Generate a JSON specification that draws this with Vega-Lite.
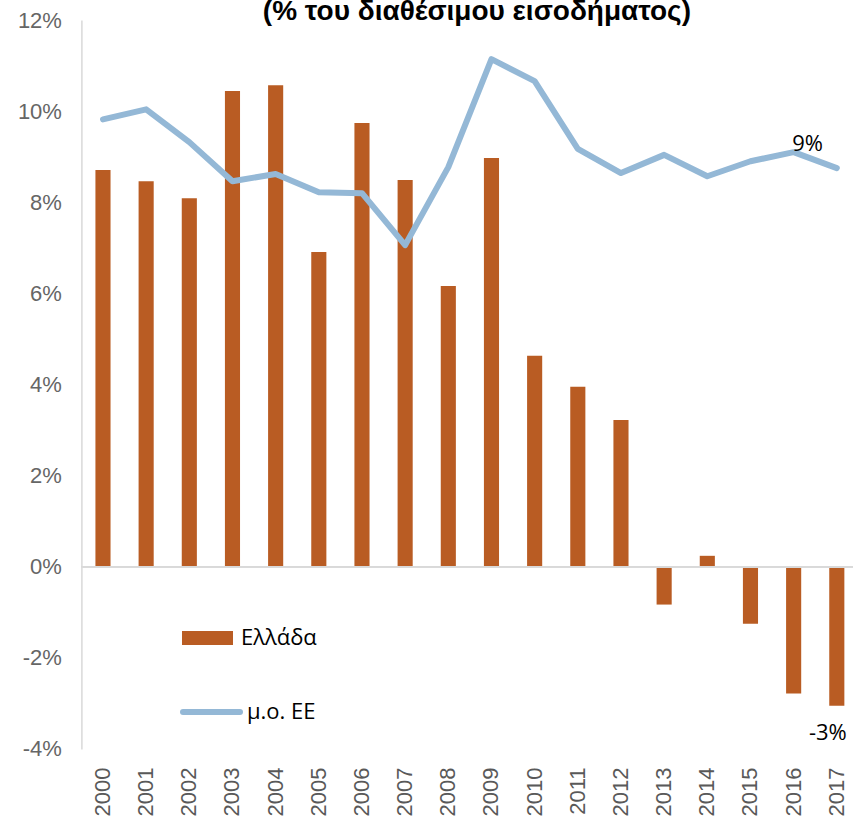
{
  "$schema": "https://vega.github.io/schema/vega-lite/v6.json",
  "autosize": "none",
  "width": 777,
  "height": 729,
  "padding": {"left": 81.4, "top": 20, "right": 0, "bottom": 70},
  "background": "white",
  "config": {"view": {"stroke": null}},
  "title": {
    "text": "(% του διαθέσιμου εισοδήματος)",
    "font": "Liberation Sans",
    "fontSize": 28,
    "fontWeight": "bold",
    "color": "#000000",
    "anchor": "middle",
    "orient": "top",
    "offset": 0,
    "baseline": "alphabetic",
    "dy": 39,
    "dx": 7
  },
  "datasets": {
    "main": [
      {"year": "2000", "greece": 8.71, "eu": 9.82},
      {"year": "2001", "greece": 8.46, "eu": 10.04},
      {"year": "2002", "greece": 8.09, "eu": 9.32},
      {"year": "2003", "greece": 10.44, "eu": 8.46},
      {"year": "2004", "greece": 10.57, "eu": 8.62},
      {"year": "2005", "greece": 6.91, "eu": 8.22},
      {"year": "2006", "greece": 9.74, "eu": 8.20},
      {"year": "2007", "greece": 8.49, "eu": 7.06},
      {"year": "2008", "greece": 6.16, "eu": 8.77},
      {"year": "2009", "greece": 8.97, "eu": 11.14},
      {"year": "2010", "greece": 4.63, "eu": 10.66},
      {"year": "2011", "greece": 3.95, "eu": 9.17},
      {"year": "2012", "greece": 3.22, "eu": 8.64},
      {"year": "2013", "greece": -0.83, "eu": 9.04},
      {"year": "2014", "greece": 0.24, "eu": 8.57},
      {"year": "2015", "greece": -1.25, "eu": 8.90},
      {"year": "2016", "greece": -2.78, "eu": 9.10},
      {"year": "2017", "greece": -3.05, "eu": 8.75}
    ],
    "labels": [
      {"year": "2016", "value": 9.10, "label": "9%", "series": "eu"},
      {"year": "2017", "value": -3.05, "label": "-3%", "series": "gr"}
    ]
  },
  "encoding": {
    "x": {
      "field": "year",
      "type": "ordinal",
      "scale": {"paddingInner": 0.65, "paddingOuter": 0.325},
      "axis": {
        "title": null,
        "domain": false,
        "ticks": false,
        "labelAngle": 270,
        "labelFont": "Liberation Sans",
        "labelFontSize": 22,
        "labelColor": "#595959",
        "labelPadding": 18
      }
    }
  },
  "layer": [
    {
      "data": {"name": "main"},
      "mark": {"type": "bar"},
      "encoding": {
        "y": {
          "field": "greece",
          "type": "quantitative",
          "scale": {"domain": [-4, 12], "nice": false, "zero": false},
          "axis": {
            "title": null,
            "values": [-4, -2, 0, 2, 4, 6, 8, 10, 12],
            "labelExpr": "datum.value + '%'",
            "grid": false,
            "ticks": false,
            "domain": true,
            "domainColor": "#D9D9D9",
            "domainWidth": 1.5,
            "labelFont": "Liberation Sans",
            "labelFontSize": 22,
            "labelColor": "#666666",
            "labelPadding": 20
          }
        },
        "fill": {
          "datum": "Ελλάδα",
          "scale": {"range": ["#B95C23"]},
          "legend": {
            "title": null,
            "orient": "none",
            "legendX": 100.6,
            "legendY": 592.5,
            "symbolType": "M-1,-0.2745H1V0.2745H-1Z",
            "symbolSize": 2601,
            "symbolStrokeWidth": 0,
            "labelFont": "Open Sans",
            "labelFontSize": 22,
            "labelColor": "#000000",
            "labelOffset": 8
          }
        }
      }
    },
    {
      "data": {"name": "main"},
      "mark": {"type": "rule", "color": "#D9D9D9", "strokeWidth": 1.5},
      "encoding": {"y": {"datum": 0, "type": "quantitative"}, "x": null}
    },
    {
      "data": {"name": "main"},
      "mark": {"type": "line", "strokeWidth": 6, "strokeCap": "round", "strokeJoin": "round"},
      "encoding": {
        "y": {"field": "eu", "type": "quantitative"},
        "stroke": {
          "datum": "μ.ο. ΕΕ",
          "scale": {"range": ["#94B8D6"]},
          "legend": {
            "title": null,
            "orient": "none",
            "legendX": 98.6,
            "legendY": 660.5,
            "symbolType": "stroke",
            "symbolSize": 3249,
            "symbolStrokeWidth": 6,
            "labelFont": "Open Sans",
            "labelFontSize": 22,
            "labelColor": "#000000",
            "labelOffset": 4,
            "encode": {"symbols": {"update": {"strokeCap": {"value": "round"}}}}
          }
        }
      }
    },
    {
      "data": {"name": "labels"},
      "transform": [{"filter": "datum.series == 'eu'"}],
      "mark": {"type": "text", "font": "Open Sans", "fontSize": 22, "color": "#000000", "baseline": "middle", "dx": 14, "dy": -8},
      "encoding": {
        "y": {"field": "value", "type": "quantitative"},
        "text": {"field": "label"}
      }
    },
    {
      "data": {"name": "labels"},
      "transform": [{"filter": "datum.series == 'gr'"}],
      "mark": {"type": "text", "font": "Open Sans", "fontSize": 22, "color": "#000000", "baseline": "middle", "dx": -9, "dy": 27},
      "encoding": {
        "y": {"field": "value", "type": "quantitative"},
        "text": {"field": "label"}
      }
    }
  ]
}
